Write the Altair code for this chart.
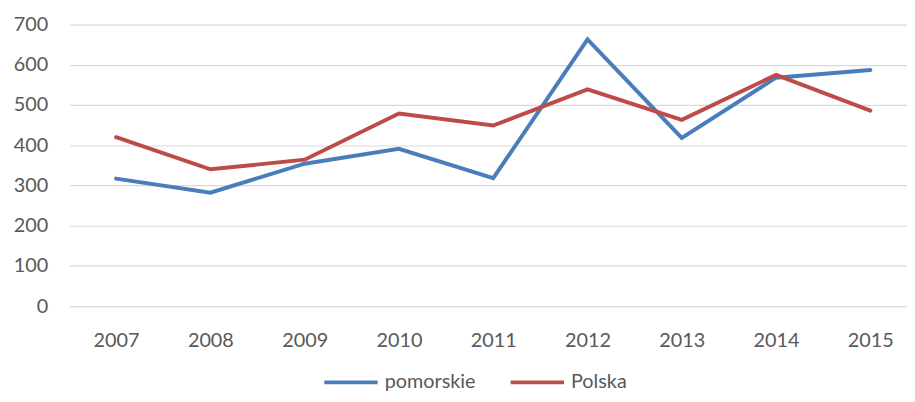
import altair as alt
import pandas as pd

years = ["2007", "2008", "2009", "2010", "2011", "2012", "2013", "2014", "2015"]
pomorskie = [317, 282, 354, 391, 318, 663, 418, 568, 587]
polska = [420, 340, 364, 479, 449, 539, 463, 575, 486]
series = ["pomorskie", "Polska"]
colors = ["#4a7ebb", "#be4b48"]

rows = []
for name, vals in zip(series, [pomorskie, polska]):
    for y, v in zip(years, vals):
        rows.append({"year": y, "value": v, "series": name})
df = pd.DataFrame(rows)

font = "Lato"
chart = alt.Chart(df).mark_line(strokeWidth=4, strokeCap="round", strokeJoin="miter").encode(
    x=alt.X("year:O", sort=years, title=None,
            scale=alt.Scale(type="point", padding=0.4417, align=0.56),
            axis=alt.Axis(labelAngle=0, ticks=False, domain=False, grid=False,
                          labelPadding=25, labelFontSize=20, labelColor="#595959", labelFont=font)),
    y=alt.Y("value:Q", title=None,
            scale=alt.Scale(domain=[0, 700], nice=False),
            axis=alt.Axis(values=[0, 100, 200, 300, 400, 500, 600, 700], ticks=False, domain=False,
                          gridColor="#d9d9d9", gridWidth=1.2, labelPadding=22,
                          labelFontSize=20, labelColor="#595959", labelFont=font)),
    color=alt.Color("series:N", sort=series,
                    scale=alt.Scale(domain=series, range=colors),
                    legend=alt.Legend(title=None, orient="none", direction="horizontal",
                                      legendX=255, legendY=332, symbolType="stroke",
                                      symbolSize=2900, symbolStrokeWidth=4,
                                      labelFontSize=20, labelColor="#595959", labelFont=font,
                                      labelOffset=5, columnPadding=27)),
).properties(
    width=845, height=284,
    autosize=alt.AutoSizeParams(type="none"),
    padding={"left": 62, "top": 15, "right": 0, "bottom": 87},
).configure_view(stroke=None)

chart.save("out.html", embed_options={"renderer": "svg", "actions": False})
